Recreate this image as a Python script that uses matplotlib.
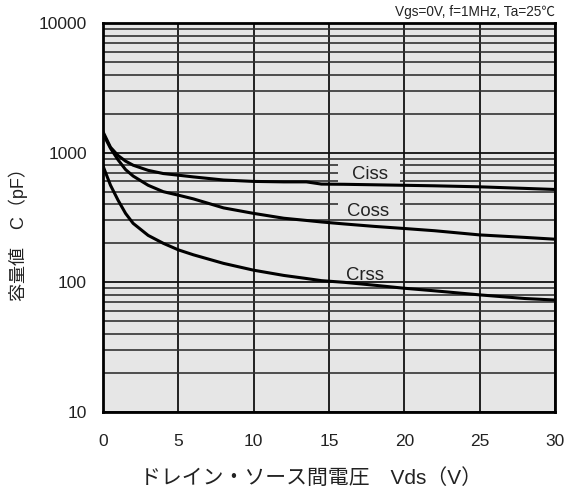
import matplotlib
matplotlib.use("Agg")
import matplotlib.pyplot as plt
from matplotlib.patches import Rectangle
from matplotlib.ticker import FixedLocator, NullFormatter

plt.rcParams['font.family'] = ['Liberation Sans', 'Noto Sans CJK JP', 'DejaVu Sans']

# data (Vds in V, capacitance in pF)
vds = [0, 0.5, 1, 1.5, 2, 3, 4, 5, 6, 8, 10, 12, 13.5, 14.5, 16, 18, 20, 22, 25, 28, 30]
ciss = [1450, 1100, 950, 860, 800, 730, 690, 670, 650, 615, 600, 595, 595, 572,
        570, 565, 560, 555, 545, 530, 520]
coss = [1400, 1080, 880, 740, 660, 560, 500, 470, 440, 375, 340, 312, 300, 292,
        282, 270, 260, 250, 232, 222, 215]
crss = [790, 560, 430, 340, 285, 230, 200, 178, 163, 140, 124, 113, 107, 103,
        100, 95, 90, 86, 80, 75, 73]

x_ticks = [0, 5, 10, 15, 20, 25, 30]
y_ticks = [10, 100, 1000, 10000]
y_minor = [m * d for d in (10, 100, 1000) for m in range(2, 10)]

fig = plt.figure(figsize=(5.68, 4.95), dpi=100)
ax = fig.add_axes([0.1813, 0.1677, 0.7958, 0.7859])
ax.set_facecolor('#e6e6e6')

ax.set_yscale('log')
ax.set_xlim(0, 30)
ax.set_ylim(10, 10000)
ax.set_xticks(x_ticks)
ax.set_xticklabels([str(t) for t in x_ticks])
ax.set_yticks(y_ticks)
ax.set_yticklabels([str(t) for t in y_ticks])
ax.yaxis.set_minor_locator(FixedLocator(y_minor))
ax.yaxis.set_minor_formatter(NullFormatter())
ax.tick_params(which='both', length=0, labelsize=12.5, colors='#222222')
ax.tick_params(axis='x', pad=16)
ax.tick_params(axis='y', pad=11.5)

ax.grid(True, which='major', axis='both', color='#111111', lw=1.3)
ax.grid(True, which='minor', axis='y', color='#333333', lw=1.2)
ax.set_axisbelow(True)
for s in ax.spines.values():
    s.set_linewidth(2)
    s.set_color('black')

for series in (ciss, coss, crss):
    ax.plot(vds, series, color='black', lw=2.2, solid_joinstyle='round', zorder=3)

# label backgrounds that cut the grid lines
ax.add_patch(Rectangle((15.6, 585), 4.1, 255, fc='#e6e6e6', ec='none', zorder=1))
ax.add_patch(Rectangle((15.6, 330), 4.1, 120, fc='#e6e6e6', ec='none', zorder=1))
ax.text(17.69, 622, 'Ciss', fontsize=13.3, ha='center', va='baseline', color='#222222', zorder=4)
ax.text(17.6, 324, 'Coss', fontsize=13.3, ha='center', va='baseline', color='#222222', zorder=4)
ax.text(17.36, 105, 'Crss', fontsize=13.3, ha='center', va='baseline', color='#222222', zorder=4)

fig.text(0.977, 0.975, 'Vgs=0V, f=1MHz, Ta=25\u2103', fontsize=9.8, ha='right', va='center',
         color='#222222', family=['Liberation Sans', 'Noto Sans CJK JP'])
fig.text(0.5467, 0.0343, 'ドレイン・ソース間電圧\u3000Vds（V）', fontsize=15, ha='center', va='center',
         color='#222222', family=['Liberation Sans', 'Noto Sans CJK JP'])
fig.text(0.0317, 0.535, '容量値\u3000C（pF）', fontsize=13, ha='center', va='center', rotation=90,
         color='#222222', family=['Liberation Sans', 'Noto Sans CJK JP'])

fig.savefig('out.png', dpi=100)
